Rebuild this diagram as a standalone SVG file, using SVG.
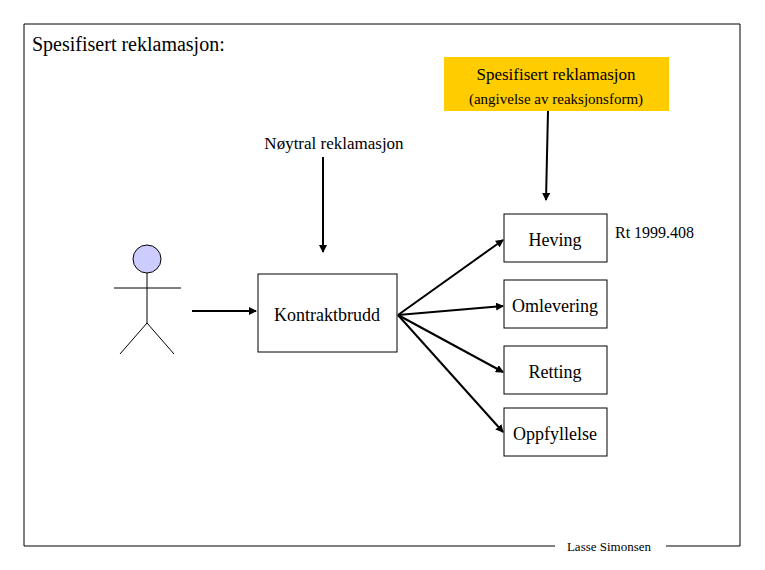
<svg xmlns="http://www.w3.org/2000/svg" width="765" height="570" viewBox="0 0 765 570">
<defs><marker id="a" markerWidth="8" markerHeight="8" refX="7" refY="4" orient="auto" markerUnits="userSpaceOnUse"><path d="M0,0 L8,4 L0,8 z" fill="#000"/></marker>
<style>text{font-family:"Liberation Serif",serif;fill:#000}.b{fill:#fff;stroke:#000;stroke-width:1}.c line{stroke:#000;stroke-width:2;marker-end:url(#a)}</style></defs>
<rect width="765" height="570" fill="#fff"/>
<path d="M555,546 H24 V24 H740 V546 H666" fill="none" stroke="#000"/>
<text x="32" y="51" font-size="20">Spesifisert reklamasjon:</text>
<text x="609" y="551" font-size="13" text-anchor="middle">Lasse Simonsen</text>
<g id="spec"><rect x="444" y="57" width="225" height="54" fill="#FFCC00"/>
<text x="556" y="80" font-size="17" text-anchor="middle">Spesifisert reklamasjon</text>
<text x="556" y="104" font-size="15" text-anchor="middle">(angivelse av reaksjonsform)</text></g>
<g id="noytral"><text x="334" y="149" font-size="17" text-anchor="middle">Nøytral reklamasjon</text></g>
<g id="person" stroke="#000" fill="none"><circle cx="147" cy="259" r="14" fill="#ccccff"/><line x1="147" y1="273" x2="147" y2="323"/><line x1="114" y1="288" x2="181" y2="288"/><line x1="147" y1="323" x2="120" y2="354"/><line x1="147" y1="323" x2="174" y2="354"/></g>
<g id="kontrakt"><rect class="b" x="258" y="274" width="139" height="78"/><text x="327" y="321" font-size="18" text-anchor="middle">Kontraktbrudd</text></g>
<g id="heving"><rect class="b" x="504" y="214" width="103" height="48"/><text x="555" y="246" font-size="18" text-anchor="middle">Heving</text></g>
<g id="omlevering"><rect class="b" x="504" y="280" width="103" height="48"/><text x="555" y="312" font-size="18" text-anchor="middle">Omlevering</text></g>
<g id="retting"><rect class="b" x="504" y="346" width="103" height="48"/><text x="555" y="378" font-size="18" text-anchor="middle">Retting</text></g>
<g id="oppfyllelse"><rect class="b" x="504" y="408" width="103" height="48"/><text x="555" y="440" font-size="18" text-anchor="middle">Oppfyllelse</text></g>
<text x="615" y="238" font-size="16">Rt 1999.408</text>
<g class="c" id="connectors">
<line x1="192" y1="311" x2="256" y2="311"/>
<line x1="323" y1="157" x2="323" y2="252"/>
<line x1="548" y1="111" x2="546" y2="200"/>
<line x1="398" y1="315" x2="503" y2="240"/>
<line x1="398" y1="315" x2="503" y2="306"/>
<line x1="398" y1="315" x2="503" y2="372"/>
<line x1="398" y1="315" x2="503" y2="432"/>
</g>
</svg>
